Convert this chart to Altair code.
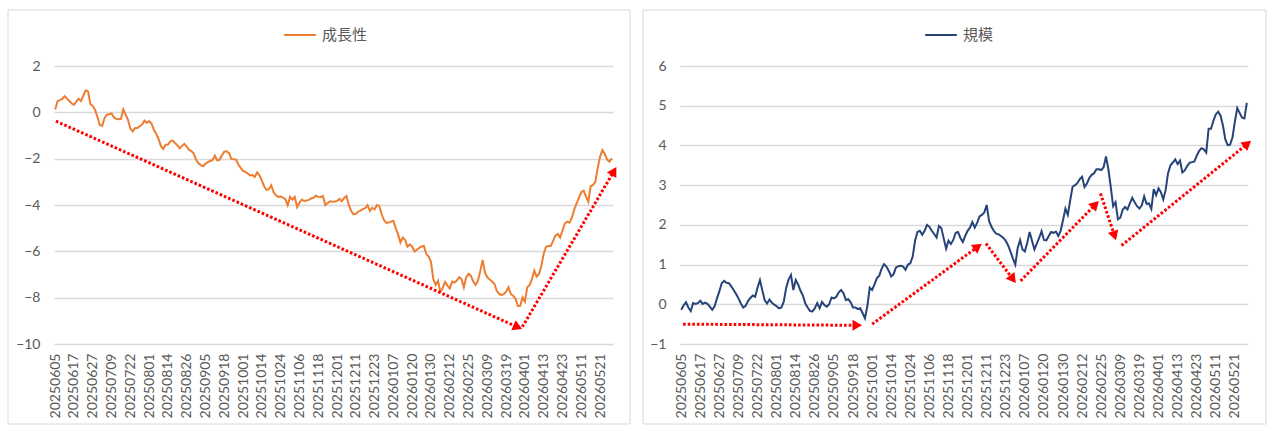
import math

import altair as alt
import pandas as pd

# Tokyo market trading days from 2025-06-05 to 2026-05-28
market_holidays = [
    "2025-07-21", "2025-08-11", "2025-09-15", "2025-09-23", "2025-10-13",
    "2025-11-03", "2025-11-24", "2025-12-31", "2026-01-01", "2026-01-02",
    "2026-01-12", "2026-02-11", "2026-02-23", "2026-03-20", "2026-04-29",
    "2026-05-04", "2026-05-05", "2026-05-06",
]
trading_days = pd.bdate_range("2025-06-05", "2026-05-28", freq="C", holidays=market_holidays)
dates = [d.strftime("%Y%m%d") for d in trading_days]
label_step = 8
tick_index = list(range(0, len(dates), label_step))
tick_labels = [dates[k] for k in tick_index]

growth = [
    0.12, 0.48, 0.53, 0.58, 0.70, 0.60, 0.49, 0.38, 0.33, 0.46,
    0.59, 0.49, 0.73, 0.95, 0.90, 0.35, 0.28, 0.10, -0.20, -0.55,
    -0.59, -0.25, -0.10, -0.08, -0.05, -0.22, -0.28, -0.30, -0.28, 0.13,
    -0.10, -0.32, -0.70, -0.82, -0.68, -0.68, -0.60, -0.53, -0.36, -0.45,
    -0.38, -0.48, -0.75, -0.92, -1.15, -1.45, -1.58, -1.40, -1.40, -1.25,
    -1.22, -1.32, -1.42, -1.55, -1.45, -1.36, -1.48, -1.62, -1.67, -1.78,
    -2.05, -2.20, -2.28, -2.33, -2.22, -2.15, -2.10, -2.07, -1.87, -2.07,
    -2.05, -1.85, -1.70, -1.68, -1.76, -2.01, -2.03, -2.04, -2.25, -2.40,
    -2.53, -2.57, -2.64, -2.72, -2.71, -2.79, -2.59, -2.72, -2.95, -3.20,
    -3.35, -3.32, -3.15, -3.45, -3.58, -3.65, -3.63, -3.68, -3.75, -4.01,
    -3.65, -3.77, -3.65, -4.09, -3.90, -3.77, -3.83, -3.81, -3.78, -3.72,
    -3.68, -3.60, -3.65, -3.66, -3.61, -4.00, -3.92, -3.84, -3.86, -3.85,
    -3.83, -3.74, -3.84, -3.70, -3.61, -4.00, -4.25, -4.40, -4.38, -4.29,
    -4.24, -4.18, -4.14, -4.01, -4.26, -4.12, -4.19, -4.00, -4.04, -4.40,
    -4.65, -4.77, -4.76, -4.72, -4.68, -5.01, -5.27, -5.62, -5.40, -5.51,
    -5.80, -5.70, -5.80, -6.01, -5.93, -5.85, -5.79, -5.77, -6.12, -6.23,
    -6.45, -7.20, -7.45, -7.27, -7.74, -7.58, -7.32, -7.48, -7.60, -7.31,
    -7.35, -7.26, -7.12, -7.20, -7.55, -7.12, -6.97, -7.06, -7.30, -7.45,
    -7.27, -6.85, -6.37, -6.92, -7.12, -7.22, -7.30, -7.40, -7.70, -7.84,
    -7.88, -7.85, -7.74, -7.55, -7.84, -7.92, -8.05, -8.36, -8.35, -7.99,
    -8.17, -7.55, -7.45, -7.20, -6.83, -7.09, -6.98, -6.62, -6.10, -5.80,
    -5.77, -5.77, -5.55, -5.32, -5.25, -5.40, -5.10, -4.80, -4.72, -4.76,
    -4.55, -4.20, -3.93, -3.68, -3.45, -3.38, -3.64, -3.86, -3.18, -3.14,
    -2.99, -2.40, -1.91, -1.63, -1.80, -2.03, -2.13, -1.99,
]

size_factor = [
    -0.14, -0.03, 0.05, -0.08, -0.17, 0.03, 0.01, 0.03, 0.09, 0.01,
    0.04, 0.01, -0.06, -0.14, -0.05, 0.15, 0.33, 0.53, 0.59, 0.54,
    0.53, 0.45, 0.36, 0.26, 0.15, 0.02, -0.08, -0.04, 0.08, 0.16,
    0.22, 0.19, 0.42, 0.61, 0.35, 0.10, 0.02, 0.12, 0.04, -0.01,
    -0.05, -0.10, -0.08, 0.07, 0.42, 0.62, 0.74, 0.36, 0.61, 0.50,
    0.34, 0.22, 0.02, -0.08, -0.17, -0.18, -0.10, 0.03, -0.10, 0.06,
    -0.02, -0.06, 0.00, 0.17, 0.15, 0.19, 0.30, 0.36, 0.28, 0.11,
    0.13, 0.05, -0.08, -0.08, -0.12, -0.10, -0.22, -0.35, -0.05, 0.42,
    0.36, 0.50, 0.66, 0.72, 0.90, 1.01, 0.95, 0.84, 0.70, 0.76,
    0.93, 0.96, 0.97, 0.95, 0.87, 1.00, 1.03, 1.20, 1.60, 1.82,
    1.85, 1.75, 1.85, 2.00, 1.95, 1.85, 1.77, 1.68, 1.97, 1.92,
    1.66, 1.40, 1.60, 1.52, 1.62, 1.80, 1.82, 1.67, 1.57, 1.72,
    1.85, 1.93, 2.07, 1.93, 2.05, 2.21, 2.25, 2.31, 2.50, 2.10,
    1.95, 1.85, 1.78, 1.76, 1.72, 1.67, 1.60, 1.48, 1.32, 1.15,
    1.00, 1.42, 1.62, 1.38, 1.33, 1.55, 1.82, 1.60, 1.38, 1.53,
    1.67, 1.84, 1.62, 1.61, 1.72, 1.82, 1.80, 1.83, 1.72, 1.85,
    2.12, 2.41, 2.25, 2.62, 2.96, 3.00, 3.05, 3.15, 3.21, 2.95,
    3.04, 3.18, 3.26, 3.30, 3.40, 3.40, 3.38, 3.45, 3.72, 3.40,
    2.95, 2.47, 2.57, 2.14, 2.18, 2.38, 2.45, 2.39, 2.54, 2.68,
    2.57, 2.47, 2.41, 2.49, 2.72, 2.53, 2.54, 2.40, 2.90, 2.75,
    2.92, 2.82, 2.64, 2.88, 3.30, 3.50, 3.57, 3.65, 3.53, 3.62,
    3.32, 3.37, 3.48, 3.56, 3.58, 3.59, 3.74, 3.86, 3.93, 3.90,
    3.82, 4.42, 4.42, 4.62, 4.78, 4.85, 4.75, 4.50, 4.15, 4.01,
    4.02, 4.20, 4.60, 4.94, 4.82, 4.70, 4.68, 5.07,
]

# Trend arrows: (start index, start value, tip index, tip value)
growth_arrows = [
    (0.3, -0.38, 198.2, -9.33),
    (198.9, -9.26, 238.6, -2.42),
]
size_arrows = [
    (0.8, -0.50, 75.1, -0.53),
    (80.0, -0.50, 125.4, 1.50),
    (127.7, 1.53, 139.8, 0.57),
    (142.2, 0.59, 174.5, 2.57),
    (175.7, 2.79, 182.0, 1.65),
    (184.5, 1.48, 238.3, 4.09),
]

NUM_FONT = "Lato"
CJK_FONT = "Noto Sans CJK JP"
TEXT_GRAY = "#595959"
GRID_GRAY = "#d9d9d9"
ARROW_RED = "#ff0000"
HEAD_SIZE = 120  # triangle area in px^2
HEAD_BACK = 0.433 * math.sqrt(HEAD_SIZE)  # tip-to-centre distance

label_expr = "[" + ",".join(f"'{t}'" for t in tick_labels) + "][round(datum.value / %d)]" % label_step


def panel(values, name, color, y_min, y_max, y_step, arrows, width, height,
          frame_left, frame_right, legend_x):
    n = len(dates)
    x_dom = [-0.5, n - 0.5]
    kx = width / (x_dom[1] - x_dom[0])
    ky = height / (y_max - y_min)

    df = pd.DataFrame({"i": range(n), "date": dates, "v": values, "series": name})
    x_scale = alt.Scale(domain=x_dom, nice=False, zero=False)
    y_scale = alt.Scale(domain=[y_min, y_max], nice=False, zero=False)

    y_ticks = []
    t = y_min
    while t <= y_max + 1e-9:
        y_ticks.append(round(t, 6))
        t += y_step

    x_axis = alt.Axis(
        values=tick_index, labelExpr=label_expr, labelAngle=-90, grid=False,
        ticks=False, domain=False, labelPadding=9, labelFont=NUM_FONT,
        labelFontSize=14, labelColor=TEXT_GRAY, title=None,
        labelOverlap=False, labelFlush=False,
    )
    y_axis = alt.Axis(
        values=y_ticks, grid=True, gridColor=GRID_GRAY, gridWidth=1.5,
        ticks=False, domain=False, labelPadding=14, labelFont=NUM_FONT,
        labelFontSize=14, labelColor=TEXT_GRAY, title=None,
    )
    x_enc = alt.X("i:Q", scale=x_scale, axis=x_axis)
    y_enc = alt.Y("v:Q", scale=y_scale, axis=y_axis)

    line = alt.Chart(df).mark_line(strokeWidth=2).encode(
        x=x_enc,
        y=y_enc,
        color=alt.Color(
            "series:N",
            scale=alt.Scale(domain=[name], range=[color]),
            legend=alt.Legend(
                orient="none", legendX=legend_x, legendY=-48, title=None,
                symbolType="stroke", symbolStrokeWidth=2, symbolSize=1000,
                labelFont=CJK_FONT, labelFontSize=15, labelColor=TEXT_GRAY,
                labelOffset=5, padding=0,
            ),
        ),
    )

    seg_rows, head_rows = [], []
    for x0, y0, x1, y1 in arrows:
        dx_px = (x1 - x0) * kx
        dy_px = -(y1 - y0) * ky
        length = math.hypot(dx_px, dy_px)
        ux, uy = dx_px / length, dy_px / length
        cx = x1 - ux * HEAD_BACK / kx
        cy = y1 + uy * HEAD_BACK / ky
        seg_rows.append({"i": x0, "v": y0, "i2": cx, "v2": cy})
        ang = math.degrees(math.atan2(dx_px, -dy_px)) % 360
        head_rows.append({"i": cx, "v": cy, "ang": ang})

    segs = alt.Chart(pd.DataFrame(seg_rows)).mark_rule(
        color=ARROW_RED, strokeWidth=3, strokeDash=[2.6, 2.0]
    ).encode(x=x_enc, y=y_enc, x2="i2:Q", y2="v2:Q")
    heads = alt.Chart(pd.DataFrame(head_rows)).mark_point(
        shape="triangle", filled=True, size=HEAD_SIZE, color=ARROW_RED, opacity=1, strokeWidth=0
    ).encode(x=x_enc, y=y_enc, angle=alt.Angle("ang:Q", scale=None))

    frame = alt.Chart(pd.DataFrame({"k": [0]})).mark_rect(
        fillOpacity=0, stroke=GRID_GRAY, strokeWidth=1
    ).encode(
        x=alt.value(-frame_left), x2=alt.value(width + frame_right),
        y=alt.value(-56), y2=alt.value(height + 80),
    )

    return alt.layer(frame, line, segs, heads).properties(width=width, height=height)


left = panel(growth, "成長性", "#ED7D31", -10, 2, 2, growth_arrows,
             559, 278, 46, 17, 229)
right = panel(size_factor, "規模", "#264478", -1, 6, 1, size_arrows,
              568, 278, 37, 18, 244)

chart = (
    alt.hconcat(left, right, spacing=11)
    .resolve_scale(x="independent", y="independent", color="independent")
    .resolve_legend(color="independent")
    .properties(padding={"left": 7, "top": 9, "right": 4, "bottom": 4}, background="white")
    .configure_view(stroke=None)
)

chart.save("out.html", embed_options={"renderer": "svg", "actions": False})
